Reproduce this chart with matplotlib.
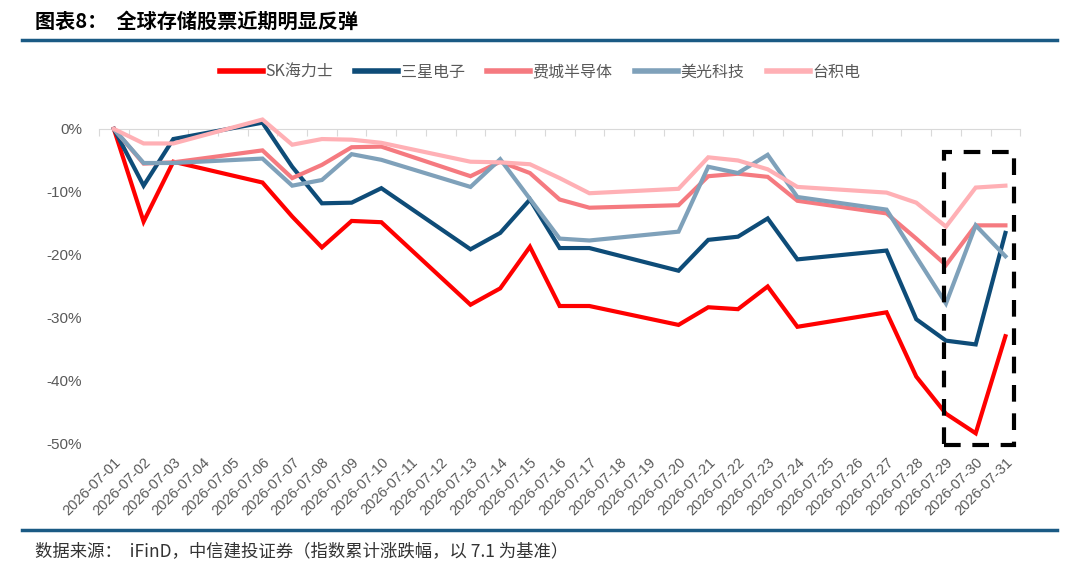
import matplotlib.pyplot as plt
from matplotlib.patches import Rectangle
from matplotlib.lines import Line2D

plt.rcParams['font.family'] = ['Liberation Sans', 'Noto Sans CJK SC', 'DejaVu Sans']

dates = ['2026-07-%02d' % d for d in range(1, 32)]
N = None
# 累计涨跌幅 (%), 周末无数据
sk_hynix = [0, -14.7, -5.2, N, N, -8.5, -13.9, -18.8, -14.6, -14.8, N, N, -27.9, -25.3, -18.7, -28.1,
            -28.1, N, N, -31.1, -28.3, -28.6, -25.0, -31.4, N, N, -29.1, -39.3, -45.2, -48.3, -32.9]
samsung = [0, -9.0, -1.6, N, N, 1.0, -6.0, -11.8, -11.7, -9.4, N, N, -19.1, -16.5, -11.2, -18.9,
           -18.9, N, N, -22.5, -17.6, -17.1, -14.2, -20.7, N, N, -19.3, -30.2, -33.6, -34.2, -16.5]
sox = [0, -5.5, -5.3, N, N, -3.4, -7.8, -5.7, -2.9, -2.8, N, N, -7.5, -5.2, -7.0, -11.2,
       -12.5, N, N, -12.1, -7.5, -7.1, -7.6, -11.4, N, N, -13.4, -17.4, -21.6, -15.3, -15.3]
micron = [0, -5.4, -5.4, N, N, -4.7, -9.0, -8.1, -4.0, -4.9, N, N, -9.2, -4.8, -11.1, -17.4,
          -17.7, N, N, -16.3, -6.0, -7.0, -4.1, -10.8, N, N, -12.8, -20.3, -27.7, -15.3, -20.2]
tsmc = [0, -2.3, -2.3, N, N, 1.5, -2.5, -1.6, -1.7, -2.2, N, N, -5.2, -5.3, -5.6, -7.8,
        -10.2, N, N, -9.5, -4.5, -5.0, -6.4, -9.2, N, N, -10.1, -11.7, -15.5, -9.3, -9.0]

names = ['SK海力士', '三星电子', '费城半导体', '美光科技', '台积电']
series = [sk_hynix, samsung, sox, micron, tsmc]
colors = ['#ff0000', '#0e4c78', '#f57a80', '#7fa1ba', '#ffb0b5']
yticks = [0, -10, -20, -30, -40, -50]

fig = plt.figure(figsize=(10.8, 5.72), dpi=100)
ax = fig.add_axes([0.0917, 0.2238, 0.853, 0.5948])

for vals, name, c in zip(series, names, colors):
    xs = [i for i, v in enumerate(vals) if v is not None]
    ys = [v for v in vals if v is not None]
    ax.plot(xs, ys, color=c, lw=3, label=name, solid_joinstyle='miter')

ax.set_xlim(-0.5, len(dates) - 0.5)
ax.set_ylim(-50, 4)
ax.set_yticks(yticks)
ax.set_yticklabels(['%d%%' % v for v in yticks])
ax.tick_params(axis='y', length=0, labelsize=11, labelcolor='#595959', pad=12)

for s in ['top', 'right', 'left']:
    ax.spines[s].set_visible(False)
ax.spines['bottom'].set_position(('data', 0))
ax.spines['bottom'].set_color('#d9d9d9')
ax.spines['bottom'].set_zorder(0)
ax.set_xticks([i - 0.5 for i in range(len(dates) + 1)])
ax.tick_params(axis='x', length=5, color='#d9d9d9', labelbottom=False)

sec = ax.secondary_xaxis('bottom')
sec.spines['bottom'].set_visible(False)
sec.set_xticks(range(len(dates)))
sec.set_xticklabels(dates, rotation=45, ha='right', rotation_mode='anchor')
sec.tick_params(length=0, labelsize=10.5, labelcolor='#595959', pad=8)

# 虚线框
ax.add_patch(Rectangle((27.95, -50.2), 2.33, 46.55, fill=False, ec='black', lw=3,
                       ls=(0, (4, 2.8)), clip_on=False, zorder=5))

handles = [Line2D([], [], color=c, lw=4) for c in colors]
fig.legend(handles, names, loc='center', bbox_to_anchor=(0.5, 0.874), ncol=5, frameon=False,
           handlelength=2.7, columnspacing=1.4, handletextpad=0.15,
           prop={'family': ['Noto Sans CJK SC'], 'size': 11.5}, labelcolor='#595959')

fig.text(0.032, 0.963, '图表8：  全球存储股票近期明显反弹', fontsize=14.5, fontweight='bold',
         family=['Noto Sans CJK SC'], va='center', ha='left')
fig.add_artist(Line2D([0.02, 0.979], [0.93, 0.93], color='#1a5a84', lw=2.5))
fig.add_artist(Line2D([0.02, 0.979], [0.073, 0.073], color='#1a5a84', lw=2.5))
fig.text(0.032, 0.037, '数据来源：  iFinD，中信建投证券（指数累计涨跌幅，以 7.1 为基准）', fontsize=12.5,
         style='italic', family=['Noto Sans CJK SC'], color='#333333', va='center', ha='left')

fig.savefig('out.png', dpi=100)
